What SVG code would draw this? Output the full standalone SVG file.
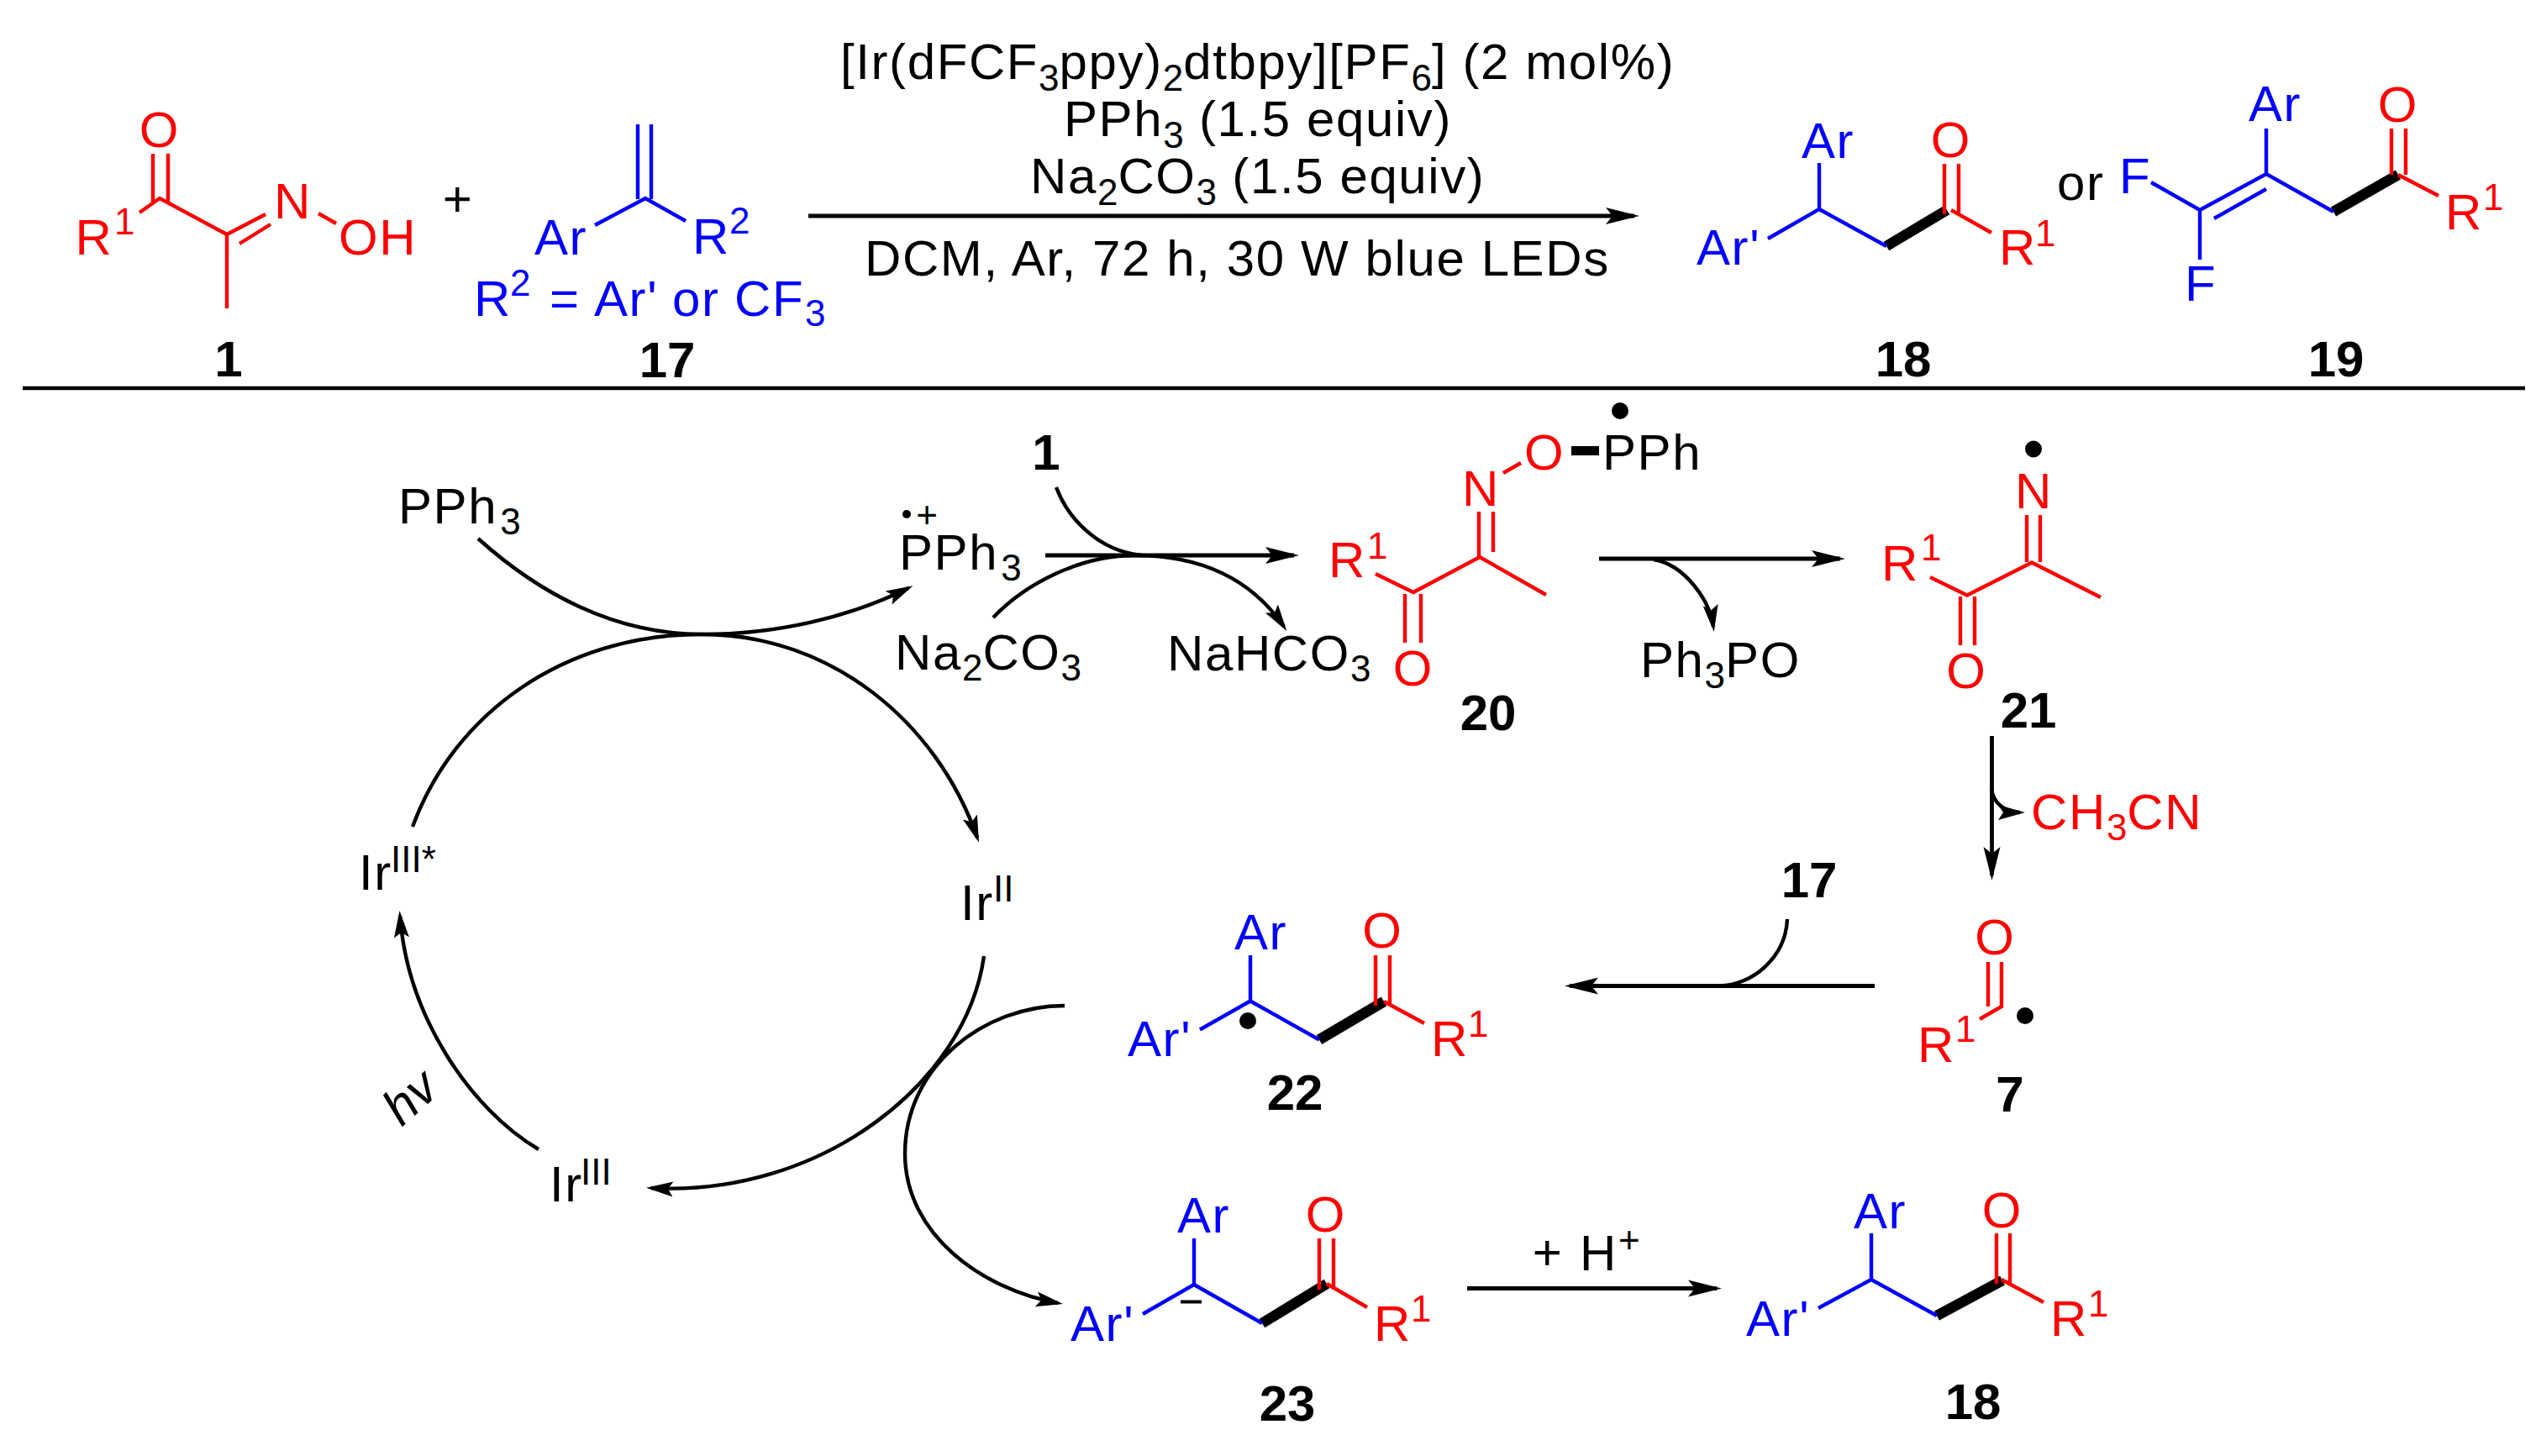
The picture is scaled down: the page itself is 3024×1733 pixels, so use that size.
<svg xmlns="http://www.w3.org/2000/svg" width="3024" height="1733" viewBox="0 0 3024 1733">
<style>
text{font-family:"Liberation Sans",Arial,sans-serif;font-size:60px;letter-spacing:1.6px;fill:#000}
.r{fill:#f00}.b{fill:#00f}
.n{font-weight:700;font-size:60px;letter-spacing:0}
.s{font-size:44px;letter-spacing:0}
.i{font-style:italic;letter-spacing:0}
.lr,.lb,.lk{fill:none;stroke-width:4.4}
.lr{stroke:#f00}.lb{stroke:#00f}.lk{stroke:#000;stroke-width:12.5}
.c{fill:none;stroke:#000;stroke-width:4.4}
.a{fill:none;stroke:#000;stroke-width:4.8}
.h{marker-end:url(#big)}
.m{marker-end:url(#small)}
</style>
<defs>
<marker id="big" markerUnits="userSpaceOnUse" markerWidth="44" markerHeight="24" refX="34" refY="12" orient="auto"><path d="M0,2L40,12L0,22L8,12Z" fill="#000"/></marker>
<marker id="small" markerUnits="userSpaceOnUse" markerWidth="36" markerHeight="22" refX="26" refY="11" orient="auto"><path d="M0,2L32,11L0,20L6,11Z" fill="#000"/></marker>
</defs>
<rect width="3024" height="1733" fill="#fff"/>

<g id="connectors">
<path class="a h" d="M962,257H1945"/>
<path d="M27,462H3005" stroke="#000" stroke-width="4.5" fill="none"/>
<path class="c" d="M569,641C640,705 730,755 835,755"/>
<path class="c m" d="M835,755C925,755 1010,735 1081,700"/>
<path class="c" d="M491,984C540,850 670,755 835,755"/>
<path class="c m" d="M835,755C990,755 1115,860 1163,997"/>
<path class="c m" d="M1171,1138C1150,1290 975,1425 775,1414"/>
<path class="c m" d="M641,1368C560,1320 485,1210 476,1090"/>
<path class="c" d="M1267,1197C1170,1197 1077,1270 1077,1373"/>
<path class="c m" d="M1077,1373C1077,1470 1170,1535 1259,1551"/>
<path class="a h" d="M1244,661H1540"/>
<path class="c" d="M1257,580C1270,615 1305,655 1358,661"/>
<path class="c" d="M1182,735C1220,695 1285,661 1351,661"/>
<path class="c m" d="M1351,661C1430,661 1490,690 1528,746"/>
<path class="a h" d="M1903,665H2190"/>
<path class="c m" d="M1968,666C2005,672 2035,715 2039,746"/>
<path class="a h" d="M2370.5,876V1042"/>
<path class="c m" d="M2370,939C2372,955 2385,967 2404,967"/>
<path class="a h" d="M2231,1173.5H1868"/>
<path class="c" d="M2127,1094C2125,1140 2085,1173 2046,1173.5"/>
<path class="a h" d="M1746,1533.5H2043"/>
</g>

<g id="n1">
<path class="lr" d="M182,183V240M200,183V240M166,253L190,236L270,279L316,255M285,290L322,267M270,279V367M379,254L400,266"/>
<text class="r" x="190" y="175" text-anchor="middle">O</text>
<text class="r" x="89.500" y="303">R<tspan class="s" x="136" y="279">1</tspan></text>
<text class="r" x="326" y="260">N</text>
<text class="r" x="403" y="303">OH</text>
<text class="n" x="272" y="448" text-anchor="middle">1</text>
</g>
<text id="plus" x="545" y="257" text-anchor="middle">+</text>
<g id="n17">
<path class="lb" d="M759,148V237M775,148V237M708,268L768,236L816,263"/>
<text class="b" x="636" y="303">Ar</text>
<text class="b" x="824" y="302">R<tspan class="s" x="868" y="278">2</tspan></text>
<text class="b" x="564" y="376">R<tspan class="s" x="607" y="352">2</tspan><tspan x="654" y="376">=</tspan><tspan x="707" y="376">Ar'</tspan><tspan x="800" y="376">or</tspan><tspan x="874" y="376">CF</tspan><tspan class="s" x="958" y="388">3</tspan></text>
<text class="n" x="794" y="449" text-anchor="middle">17</text>
</g>
<g id="conditions">
<text x="1000" y="94">[Ir(dFCF<tspan class="s" dy="14">3</tspan><tspan dy="-14">ppy)</tspan><tspan class="s" dy="14">2</tspan><tspan dy="-14">dtbpy][PF</tspan><tspan class="s" dy="14">6</tspan><tspan dy="-14">] (2 mol%)</tspan></text>
<text x="1266" y="162">PPh<tspan class="s" dy="14">3</tspan><tspan dy="-14"> (1.5 equiv)</tspan></text>
<text x="1226" y="230">Na<tspan class="s" dy="14">2</tspan><tspan dy="-14">CO</tspan><tspan class="s" dy="14">3</tspan><tspan dy="-14"> (1.5 equiv)</tspan></text>
<text x="1029" y="328">DCM, Ar, 72 h, 30 W blue LEDs</text>
</g>
<g id="n18">
<path class="lk" d="M2245,293L2317,250"/>
<path class="lb" d="M2165,194V249L2104,284M2165,249L2245,293"/>
<path class="lr" d="M2314,195V255M2331,195V255M2322,250L2370,277"/>
<text class="b" x="2144" y="188">Ar</text>
<text class="b" x="2019" y="315">Ar'</text>
<text class="r" x="2322" y="187" text-anchor="middle">O</text>
<text class="r" x="2379" y="315">R<tspan class="s" x="2422" y="293">1</tspan></text>
<text class="n" x="2265" y="448" text-anchor="middle">18</text>
</g>
<text id="or" x="2448" y="238">or</text>
<g id="n19">
<path class="lk" d="M2777,252L2854,208"/>
<path class="lb" d="M2560,217L2618,250L2697,207L2777,252M2635,260L2697,225M2618,250V309M2697,153V207"/>
<path class="lr" d="M2846,153V208M2863,153V208M2854,208L2902,233"/>
<text class="b" x="2522" y="230">F</text>
<text class="b" x="2600" y="358">F</text>
<text class="b" x="2676" y="144">Ar</text>
<text class="r" x="2854" y="145" text-anchor="middle">O</text>
<text class="r" x="2910" y="273">R<tspan class="s" x="2955" y="250">1</tspan></text>
<text class="n" x="2780" y="448" text-anchor="middle">19</text>
</g>

<g id="n-pph3"><text x="474" y="623">PPh<tspan class="s" dx="3" dy="13">3</tspan></text></g>
<g id="n-pph3-rc">
<ellipse cx="1079" cy="612" rx="5" ry="5"/>
<text class="s" x="1103" y="628" text-anchor="middle">+</text>
<text x="1070" y="678">PPh<tspan class="s" dx="3" dy="13">3</tspan></text>
</g>
<g id="n-1b"><text class="n" x="1245" y="559" text-anchor="middle">1</text></g>
<g id="n-na2co3"><text x="1065" y="797">Na<tspan class="s" dy="13">2</tspan><tspan dy="-13">CO</tspan><tspan class="s" dy="13">3</tspan></text></g>
<g id="n-nahco3"><text x="1389" y="798">NaHCO<tspan class="s" dy="13">3</tspan></text></g>
<g id="n20">
<path class="lr" d="M1637,683L1682,705L1761,663L1840,708M1760,609V663M1777,609V657M1789,563L1810,551M1672,707V765M1691,707V765"/>
<text class="r" x="1581" y="687">R<tspan class="s" x="1627" y="665">1</tspan></text>
<text class="r" x="1740" y="602">N</text>
<text class="r" x="1814" y="559">O</text>
<text class="r" x="1682" y="816" text-anchor="middle">O</text>
<rect x="1870" y="531" width="33" height="11"/>
<text x="1907" y="559">PPh</text>
<ellipse cx="1928" cy="489" rx="10" ry="10"/>
<text class="n" x="1771" y="869" text-anchor="middle">20</text>
</g>
<g id="n-ph3po"><text x="1952" y="806">Ph<tspan class="s" dy="13">3</tspan><tspan dy="-13">PO</tspan></text></g>
<g id="n21">
<path class="lr" d="M2297,687L2341,708.500L2418,669.500L2500,711M2412,613V669M2428,613V669M2333,710V768M2350,710V768"/>
<text class="r" x="2239" y="691">R<tspan class="s" x="2286" y="667">1</tspan></text>
<text class="r" x="2398" y="604.500">N</text>
<text class="r" x="2340.500" y="819" text-anchor="middle">O</text>
<ellipse cx="2420" cy="534.500" rx="10" ry="10"/>
<text class="n" x="2414" y="866" text-anchor="middle">21</text>
</g>
<g id="n-ch3cn"><text class="r" x="2417" y="987">CH<tspan class="s" dy="13">3</tspan><tspan dy="-13">CN</tspan></text></g>
<g id="n-17b"><text class="n" x="2153" y="1068" text-anchor="middle">17</text></g>
<g id="n7">
<path class="lr" d="M2366,1145V1198M2382,1145V1198L2356,1213"/>
<text class="r" x="2374.500" y="1136" text-anchor="middle">O</text>
<text class="r" x="2282" y="1263.500">R<tspan class="s" x="2327" y="1240">1</tspan></text>
<ellipse cx="2410" cy="1209" rx="10" ry="10"/>
<text class="n" x="2392" y="1323" text-anchor="middle">7</text>
</g>
<g id="n22">
<path class="lk" d="M1570,1237.500L1647,1192"/>
<path class="lb" d="M1488,1137V1191.500L1428,1225.500M1488,1191.500L1570,1237.500"/>
<path class="lr" d="M1637,1137V1197M1654,1137V1197M1647,1192L1695,1218"/>
<text class="b" x="1469" y="1130">Ar</text>
<text class="b" x="1342" y="1256.500">Ar'</text>
<text class="r" x="1645.500" y="1128" text-anchor="middle">O</text>
<text class="r" x="1703" y="1256.500">R<tspan class="s" x="1747" y="1234">1</tspan></text>
<ellipse cx="1485" cy="1215" rx="10" ry="10"/>
<text class="n" x="1541" y="1321" text-anchor="middle">22</text>
</g>
<g id="n23">
<path class="lk" d="M1502,1575L1579,1528"/>
<path class="lb" d="M1421,1474V1529L1360,1564M1421,1529L1502,1575"/>
<path class="lr" d="M1570,1474V1535M1587,1474V1535M1579,1528L1627,1556"/>
<path d="M1405,1549.500H1430" stroke="#000" stroke-width="4" fill="none"/>
<text class="b" x="1401" y="1467">Ar</text>
<text class="b" x="1274" y="1595.500">Ar'</text>
<text class="r" x="1578" y="1466" text-anchor="middle">O</text>
<text class="r" x="1635" y="1595.500">R<tspan class="s" x="1679" y="1572.500">1</tspan></text>
<text class="n" x="1532" y="1691" text-anchor="middle">23</text>
</g>
<g id="n-hplus">
<text x="1842" y="1511" text-anchor="middle">+</text>
<text x="1880" y="1511.500">H<tspan class="s" x="1926" y="1491">+</tspan></text>
</g>
<g id="n18b">
<path class="lk" d="M2305,1566L2383,1524"/>
<path class="lb" d="M2227,1468V1523L2164,1557M2227,1523L2305,1566"/>
<path class="lr" d="M2376,1468V1528M2392,1468V1528M2382,1523L2432,1550"/>
<text class="b" x="2206" y="1462">Ar</text>
<text class="b" x="2078" y="1590">Ar'</text>
<text class="r" x="2383" y="1461" text-anchor="middle">O</text>
<text class="r" x="2440" y="1590">R<tspan class="s" x="2485" y="1567">1</tspan></text>
<text class="n" x="2348" y="1689" text-anchor="middle">18</text>
</g>
<g id="n-ir3s"><text x="427" y="1059">Ir<tspan class="s" x="465" y="1038">III*</tspan></text></g>
<g id="n-ir2"><text x="1143" y="1095">Ir<tspan class="s" x="1182" y="1073">II</tspan></text></g>
<g id="n-ir3"><text x="654" y="1430">Ir<tspan class="s" x="691" y="1410">III</tspan></text></g>
<text id="hv" class="i" transform="translate(478 1342) rotate(-42)">hv</text>
</svg>
